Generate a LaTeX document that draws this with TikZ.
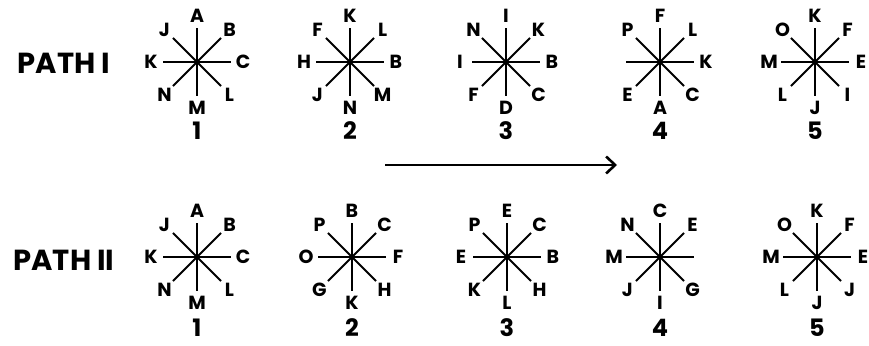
\documentclass[tikz,border=0pt]{standalone}
\usepackage{fontspec}
\setmainfont{Poppins}
\usetikzlibrary{arrows.meta,calc}

\begin{document}
\begin{tikzpicture}[x=1pt,y=1pt,
    arm/.style={line width=1.9pt},
    letter/.style={font=\bfseries\fontsize{19}{19}\selectfont, inner sep=0pt},
    num/.style={font=\bfseries\fontsize{24}{24}\selectfont, inner sep=0pt},
    pathlabel/.style={font=\bfseries\fontsize{29}{29}\selectfont, inner sep=0pt}]
  \useasboundingbox (0,0) rectangle (869,-345);
  \node[pathlabel] (pathI) at (64,-63) {PATH I};
  \node[pathlabel] (pathII) at (64,-260) {PATH II};
  \foreach \nm/\x/\y/\ny/\k/\labs in {
      aa/197/-62/-131/1/{A,B,C,L,M,N,K,J},
      ab/350/-62/-131/2/{K,L,B,M,N,J,H,F},
      ac/506/-62/-131/3/{I,K,B,C,D,F,I,N},
      ad/660/-62/-131/4/{F,L,K,C,A,E,{},P},
      ae/815/-62/-131/5/{K,F,E,I,J,L,M,O},
      ba/197/-257/-328/1/{A,B,C,L,M,N,K,J},
      bb/352/-257/-328/2/{B,C,F,H,K,G,O,P},
      bc/507/-257/-328/3/{E,C,B,H,L,K,E,P},
      bd/660/-257/-328/4/{C,E,{},G,I,J,M,N},
      be/817/-257/-328/5/{K,F,E,J,J,L,M,O}} {
    \coordinate (c\nm) at (\x,\y);
    \fill (c\nm) circle (2.4);
    \foreach \l [count=\i] in \labs {
      \pgfmathsetmacro{\ang}{135-45*\i}
      \draw[arm] (c\nm) -- ($(c\nm)+(\ang:34)$);
      \node[letter] (\nm-\i) at ($(c\nm)+(\ang:46)$) {\l};
    }
    \node[num] (n\nm) at (\x,\ny) {\k};
  }
  \coordinate (arrowstart) at (385,-165);
  \coordinate (arrowend) at (617,-165);
  \draw[line width=2.6pt, -{Straight Barb[length=9pt,width=17pt]}] (arrowstart) -- (arrowend);
\end{tikzpicture}
\end{document}
